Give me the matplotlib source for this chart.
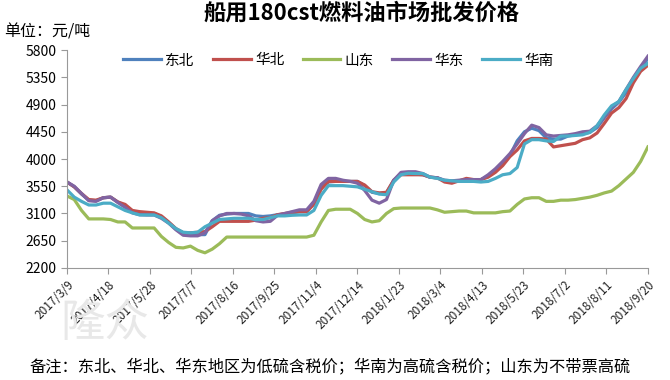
import numpy as np
import pandas as pd
import matplotlib
matplotlib.use("Agg")
import matplotlib.pyplot as plt
import matplotlib.dates as mdates

plt.rcParams['font.family'] = ['Noto Sans CJK SC', 'DejaVu Sans']

# weekly dates 2017/3/9 .. 2018/9/20
dates = pd.date_range("2017-03-09", periods=81, freq="7D")

dongbei = [3620, 3540, 3420, 3320, 3310, 3360, 3370, 3290, 3230, 3140,
           3110, 3100, 3100, 3050, 2950, 2840, 2760, 2760, 2750, 2750,
           2980, 3070, 3090, 3100, 3100, 3100, 3060, 3050, 3060, 3080,
           3090, 3110, 3130, 3130, 3270, 3540, 3620, 3630, 3630, 3630,
           3630, 3560, 3450, 3430, 3440, 3650, 3760, 3760, 3750, 3740,
           3700, 3690, 3640, 3630, 3640, 3660, 3660, 3660, 3720, 3820,
           3930, 4060, 4300, 4450, 4510, 4470, 4350, 4330, 4330, 4380,
           4400, 4420, 4440, 4520, 4680, 4830, 4940, 5100, 5320, 5500,
           5660]
huabei = [3620, 3540, 3430, 3330, 3320, 3360, 3370, 3290, 3250, 3150,
          3130, 3120, 3110, 3060, 2960, 2850, 2780, 2780, 2790, 2800,
          2880, 2970, 2970, 2970, 2970, 2970, 2990, 3020, 3030, 3080,
          3100, 3120, 3130, 3130, 3250, 3500, 3630, 3630, 3630, 3630,
          3630, 3570, 3460, 3440, 3450, 3650, 3740, 3740, 3740, 3740,
          3700, 3690, 3620, 3600, 3640, 3680, 3660, 3660, 3700, 3780,
          3890, 4040, 4150, 4300, 4340, 4340, 4330, 4200, 4220, 4240,
          4260, 4320, 4350, 4430, 4590, 4760, 4850, 5000, 5260, 5450,
          5550]
shandong = [3390, 3330, 3150, 3010, 3010, 3010, 3000, 2960, 2960, 2860,
            2860, 2860, 2860, 2720, 2620, 2540, 2530, 2560, 2490, 2450,
            2510, 2600, 2710, 2710, 2710, 2710, 2710, 2710, 2710, 2710,
            2710, 2710, 2710, 2710, 2740, 2960, 3150, 3170, 3170, 3170,
            3100, 3000, 2960, 2980, 3100, 3180, 3190, 3190, 3190, 3190,
            3190, 3160, 3120, 3130, 3140, 3140, 3110, 3110, 3110, 3110,
            3130, 3140, 3250, 3340, 3360, 3360, 3300, 3300, 3320, 3320,
            3330, 3350, 3370, 3400, 3440, 3470, 3560, 3670, 3780, 3960,
            4200]
huadong = [3620, 3550, 3430, 3310, 3300, 3360, 3370, 3280, 3200, 3110,
           3080, 3075, 3075, 3020, 2940, 2830, 2740, 2730, 2730, 2780,
           2980, 3060, 3100, 3100, 3090, 3060, 2980, 2960, 2970, 3070,
           3100, 3130, 3160, 3160, 3300, 3580, 3680, 3680, 3650, 3630,
           3600, 3480, 3320, 3270, 3330, 3650, 3780, 3790, 3790, 3760,
           3700, 3690, 3650, 3640, 3650, 3660, 3660, 3660, 3740, 3840,
           3960, 4090, 4250, 4420, 4560, 4520, 4400, 4380, 4390, 4400,
           4420, 4450, 4460, 4550, 4700, 4860, 4950, 5150, 5350, 5530,
           5700]
huanan = [3490, 3370, 3300, 3240, 3240, 3270, 3270, 3210, 3150, 3110,
          3075, 3075, 3075, 3030, 2940, 2850, 2790, 2780, 2790, 2880,
          2940, 3000, 3010, 3020, 3020, 3020, 3000, 3000, 3030, 3060,
          3060, 3070, 3075, 3075, 3150, 3400, 3560, 3560, 3560, 3550,
          3540, 3500, 3460, 3420, 3410, 3620, 3740, 3765, 3760, 3760,
          3700, 3680, 3650, 3640, 3630, 3630, 3630, 3620, 3630, 3680,
          3740, 3760, 3860, 4250, 4320, 4320, 4300, 4290, 4380, 4380,
          4390, 4400, 4440, 4550, 4730, 4880, 4950, 5150, 5330, 5500,
          5580]

series = [("东北", dongbei, "#4F81BD"),
          ("华北", huabei, "#C0504D"),
          ("山东", shandong, "#9BBB59"),
          ("华东", huadong, "#8064A2"),
          ("华南", huanan, "#4BACC6")]

tick_dates = pd.date_range("2017-03-09", "2018-09-20", freq="40D")
tick_labels = [f"{d.year}/{d.month}/{d.day}" for d in tick_dates]
yticks = list(range(2200, 5801, 450))

fig = plt.figure(figsize=(6.7, 3.8), dpi=100)
ax = fig.add_axes([0.1, 0.295, 0.867, 0.573])

for name, vals, col in series:
    ax.plot(dates, vals, color=col, lw=2.3, label=name)

ax.set_xlim(dates[0], dates[-1])
ax.set_ylim(2200, 5800)
ax.set_yticks(yticks)
ax.set_xticks(tick_dates)
ax.set_xticklabels(tick_labels, rotation=45, ha="right", rotation_mode="anchor",
                   fontsize=8.5, color="#222222")
ax.tick_params(axis="y", labelsize=10, length=4, color="#999999")
ax.tick_params(axis="x", length=4, color="#999999")
for s in ["top", "right"]:
    ax.spines[s].set_visible(False)
for s in ["left", "bottom"]:
    ax.spines[s].set_color("#999999")

ax.legend(loc="upper center", bbox_to_anchor=(0.467, 1.045), ncol=5, frameon=False,
          fontsize=10.5, handlelength=2.6, columnspacing=1.25, handletextpad=0.3)

fig.text(0.54, 0.965, "船用180cst燃料油市场批发价格", ha="center", va="center",
         fontsize=16, fontweight="bold")
fig.text(0.006, 0.915, "单位：元/吨", ha="left", va="center", fontsize=11.5)
fig.text(0.09, 0.15, "隆众", ha="left", va="center", fontsize=32,
         color="#e8e8e8", zorder=0)
fig.text(0.493, 0.034, "备注：东北、华北、华东地区为低硫含税价；华南为高硫含税价；山东为不带票高硫",
         ha="center", va="center", fontsize=11.7)

fig.savefig("out.png", dpi=100)
